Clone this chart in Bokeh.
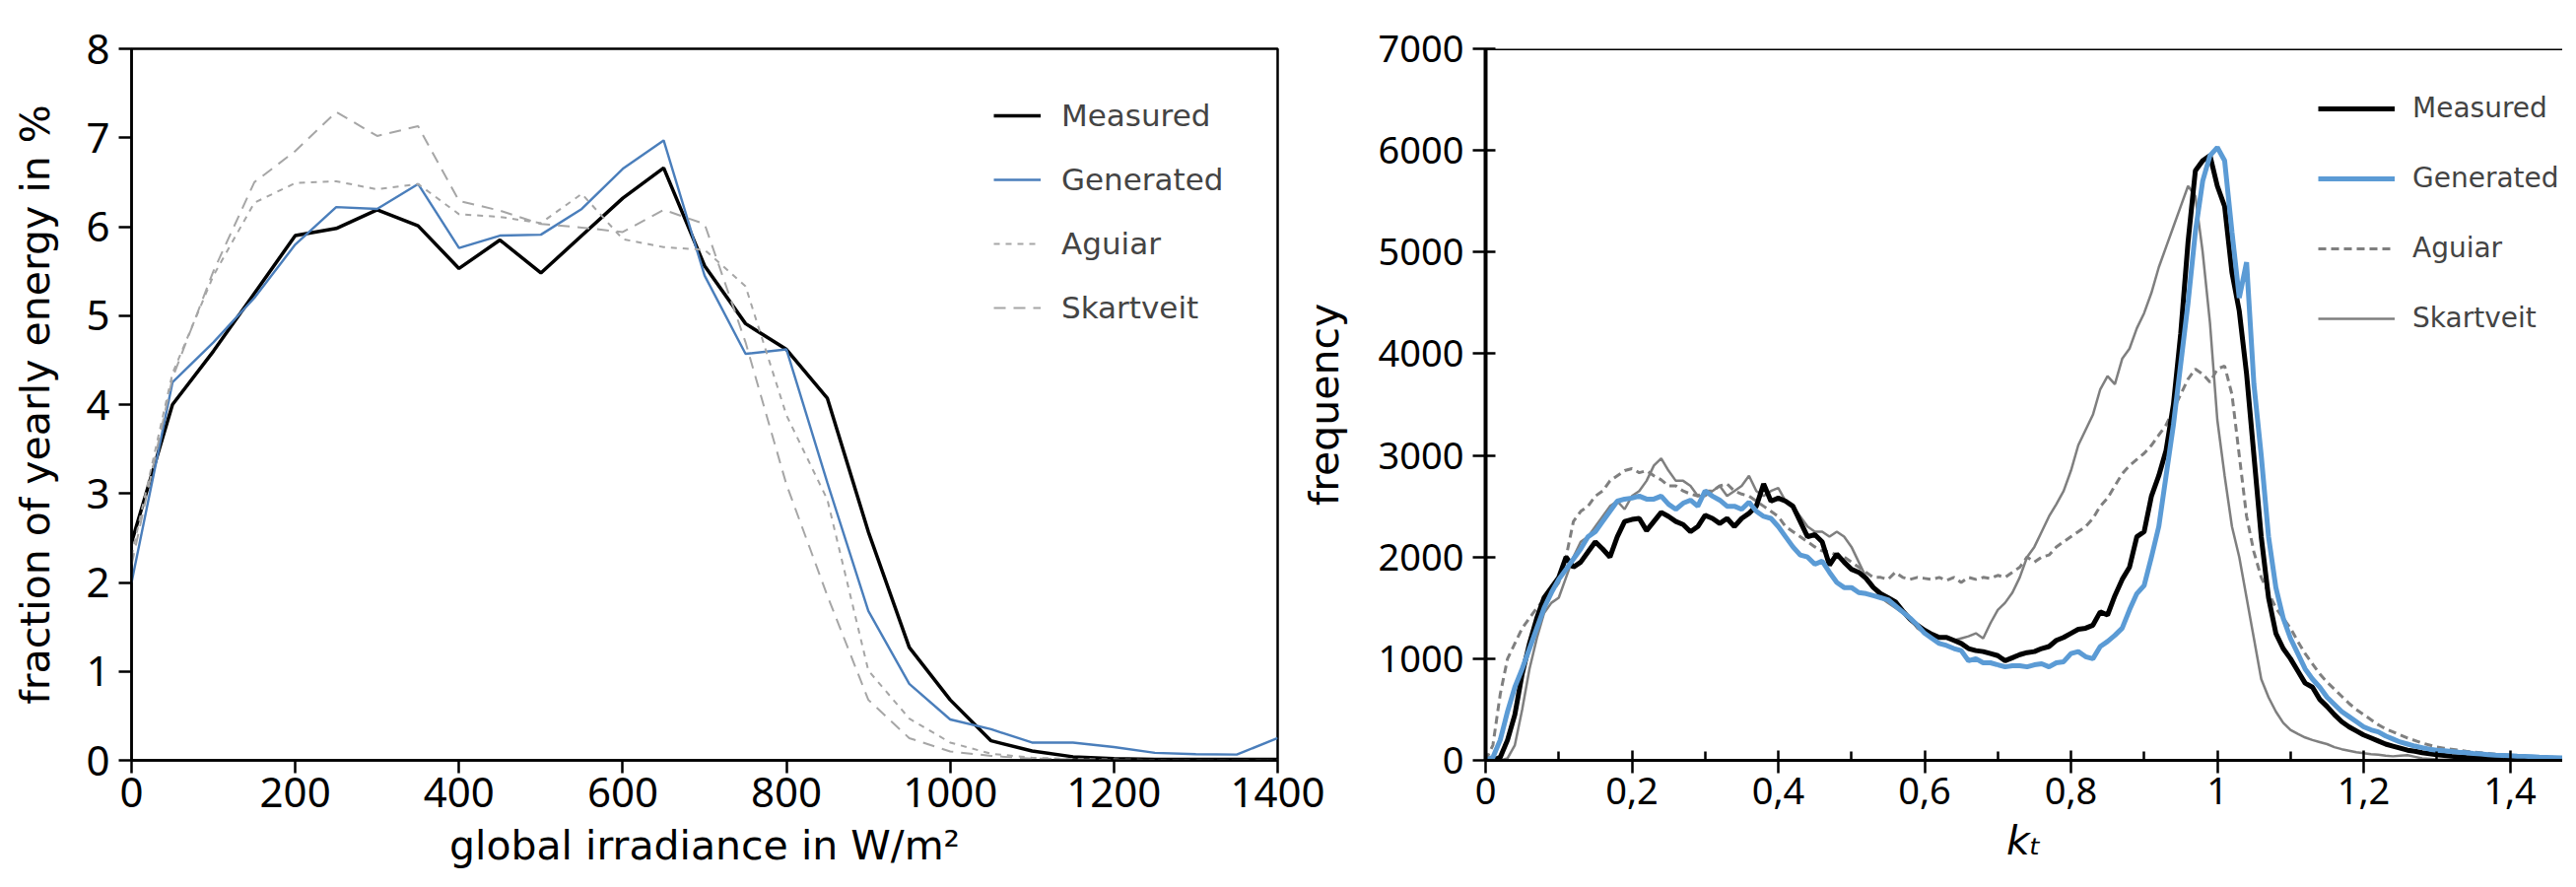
from bokeh.plotting import figure
from bokeh.models import Legend, LegendItem, FixedTicker, CustomJSTickFormatter, Span
from bokeh.layouts import row
from bokeh.embed import file_html
from bokeh.resources import INLINE

FONT = "DejaVu Sans"
TICK_FONT = "Noto Sans"

# ---------------- left panel data ----------------
irradiance = list(range(0, 1401, 50))
measured_energy = [2.45, 4.0, 4.6, 5.25, 5.9, 5.98, 6.19, 6.01, 5.53, 5.85, 5.48, 5.9, 6.32, 6.66,
                   5.56, 4.91, 4.62, 4.07, 2.57, 1.27, 0.68, 0.22, 0.105, 0.04, 0.02, 0.01, 0.01, 0.01, 0.01]
generated_energy = [2.0, 4.25, 4.7, 5.2, 5.8, 6.22, 6.2, 6.48, 5.76, 5.9, 5.91, 6.2, 6.65, 6.97,
                    5.45, 4.57, 4.62, 3.12, 1.68, 0.86, 0.46, 0.35, 0.2, 0.2, 0.15, 0.085, 0.07, 0.065, 0.25]
aguiar_energy = [2.3, 4.35, 5.45, 6.27, 6.49, 6.51, 6.42, 6.48, 6.14, 6.11, 6.04, 6.37, 5.86, 5.77,
                 5.74, 5.33, 3.88, 2.93, 1.01, 0.47, 0.2, 0.075, 0.03, 0.015, 0.01, 0.005, 0.0, 0.0, 0.0]
skartveit_energy = [2.2, 4.3, 5.5, 6.5, 6.85, 7.29, 7.02, 7.13, 6.29, 6.18, 6.03, 5.99, 5.94, 6.19,
                    6.03, 4.7, 3.1, 1.85, 0.68, 0.25, 0.1, 0.05, 0.02, 0.01, 0.005, 0.0, 0.0, 0.0, 0.0]
irr_ticks = [0, 200, 400, 600, 800, 1000, 1200, 1400]
energy_ticks = [0, 1, 2, 3, 4, 5, 6, 7, 8]

# ---------------- right panel data ----------------
kt = [round(i * 0.01, 2) for i in range(151)]
measured_freq = [
    0, 0, 30, 200, 450, 850, 1150, 1400, 1600, 1700,
    1800, 2000, 1900, 1950, 2050, 2150, 2080, 2000, 2200, 2350,
    2370, 2380, 2260, 2350, 2440, 2400, 2350, 2320, 2250, 2300,
    2410, 2380, 2330, 2380, 2300, 2380, 2430, 2500, 2720, 2550,
    2580, 2550, 2500, 2350, 2200, 2220, 2150, 1920, 2030, 1950,
    1880, 1850, 1790, 1700, 1640, 1600, 1560, 1470, 1390, 1330,
    1280, 1240, 1210, 1210, 1180, 1150, 1100, 1080, 1070, 1050,
    1030, 980, 1010, 1040, 1060, 1070, 1100, 1120, 1180, 1210,
    1250, 1290, 1300, 1330, 1460, 1430, 1620, 1780, 1900, 2200,
    2250, 2600, 2800, 3050, 3500, 4200, 5100, 5800, 5900, 5950,
    5650, 5450, 4800, 4420, 3800, 3000, 2200, 1600, 1250, 1100,
    1000, 880, 760, 720, 600, 530, 450, 380, 330, 290,
    250, 220, 190, 160, 140, 120, 100, 90, 75, 65,
    55, 48, 40, 35, 30, 26, 22, 19, 17, 15,
    14, 12, 10, 9, 8, 7, 6, 5, 5, 4,
    4]
generated_freq = [
    0, 30, 200, 480, 720, 900, 1100, 1300, 1500, 1650,
    1780, 1880, 1980, 2080, 2200, 2250, 2350, 2450, 2550, 2570,
    2580, 2600, 2570, 2570, 2600, 2520, 2470, 2530, 2560, 2500,
    2650, 2600, 2560, 2500, 2500, 2470, 2540, 2450, 2400, 2380,
    2300, 2200, 2100, 2020, 2000, 1930, 1960, 1850, 1750, 1700,
    1700, 1650, 1640, 1620, 1600, 1580, 1520, 1460, 1400, 1330,
    1250, 1200, 1150, 1130, 1100, 1080, 980, 1000, 960, 960,
    940, 920, 930, 930, 920, 940, 950, 920, 960, 970,
    1050, 1070, 1020, 1000, 1120, 1170, 1230, 1300, 1480, 1640,
    1720, 2000, 2300, 2800, 3300, 3900, 4500, 5200, 5700, 5950,
    6030, 5900, 5200, 4550, 4900, 3700, 3000, 2200, 1700, 1400,
    1200, 1050, 900, 800, 720, 620, 550, 480, 430, 380,
    330, 300, 280, 240, 210, 180, 160, 140, 125, 110,
    100, 95, 88, 80, 75, 68, 62, 56, 50, 48,
    45, 42, 40, 36, 32, 30, 27, 24, 22, 20,
    18]
aguiar_freq = [
    0, 150, 650, 1000, 1150, 1300, 1400, 1500, 1580, 1650,
    1750, 2000, 2350, 2450, 2500, 2600, 2650, 2750, 2800, 2850,
    2870, 2830, 2850, 2800, 2760, 2700, 2700, 2650, 2620, 2600,
    2650, 2650, 2700, 2720, 2650, 2620, 2600, 2550, 2500, 2450,
    2400, 2300, 2250, 2200, 2150, 2100, 2060, 2050, 2020, 2000,
    1950, 1900, 1850, 1800, 1800, 1780, 1850, 1800, 1780, 1800,
    1790, 1780, 1800, 1770, 1800, 1750, 1800, 1780, 1800, 1790,
    1820, 1800, 1850, 1900, 2000, 1950, 2000, 2020, 2100, 2150,
    2200, 2250, 2300, 2380, 2500, 2580, 2700, 2820, 2900, 2960,
    3020, 3100, 3200, 3300, 3450, 3600, 3750, 3850, 3800, 3720,
    3850, 3880, 3600, 3000, 2400, 2050, 1800, 1650, 1500, 1400,
    1300, 1170, 1050, 950, 850, 770, 700, 630, 560, 500,
    450, 400, 350, 310, 280, 250, 220, 195, 170, 150,
    130, 120, 110, 100, 90, 82, 75, 68, 60, 55,
    50, 46, 40, 38, 35, 32, 30, 27, 25, 22,
    20]
skartveit_freq = [
    0, 0, 0, 20, 150, 500, 900, 1200, 1450, 1550,
    1600, 1800, 2000, 2150, 2200, 2300, 2400, 2500, 2550, 2470,
    2600, 2650, 2750, 2900, 2970, 2850, 2750, 2750, 2700, 2600,
    2600, 2650, 2700, 2600, 2650, 2700, 2800, 2650, 2600, 2650,
    2680, 2550, 2500, 2400, 2300, 2250, 2250, 2200, 2250, 2200,
    2100, 1950, 1800, 1700, 1600, 1550, 1500, 1450, 1400, 1300,
    1250, 1220, 1200, 1200, 1180, 1200, 1220, 1250, 1200, 1350,
    1480, 1550, 1650, 1800, 2000, 2100, 2250, 2400, 2520, 2650,
    2850, 3100, 3250, 3400, 3650, 3780, 3700, 3950, 4050, 4250,
    4400, 4600, 4850, 5050, 5250, 5450, 5650, 5550, 5000, 4300,
    3350, 2800, 2300, 2000, 1600, 1200, 800, 620, 480, 370,
    300, 260, 225, 200, 180, 160, 130, 110, 95, 80,
    70, 60, 55, 45, 40, 45, 50, 35, 20, 15,
    10, 8, 6, 5, 4, 3, 3, 2, 2, 2,
    1, 1, 1, 1, 0, 0, 0, 0, 0, 0,
    0]
kt_ticks = [0, 0.2, 0.4, 0.6, 0.8, 1.0, 1.2, 1.4]
kt_minor = [0.1, 0.3, 0.5, 0.7, 0.9, 1.1, 1.3, 1.5]
freq_ticks = [0, 1000, 2000, 3000, 4000, 5000, 6000, 7000]

# ---------------- left figure ----------------
p1 = figure(frame_width=1163, frame_height=722, x_range=(0, 1400), y_range=(0, 8),
            output_backend="svg", toolbar_location=None,
            min_border_left=133, min_border_right=50, min_border_top=40, min_border_bottom=120)
p1.grid.visible = False
p1.outline_line_color = "black"
p1.outline_line_width = 2.5
p1.outline_line_alpha = 1.0

for ax in (p1.xaxis[0], p1.yaxis[0]):
    ax.axis_line_width = 2.5
    ax.major_tick_line_width = 2.5
    ax.major_tick_in = 0
    ax.major_tick_out = 13
    ax.minor_tick_line_color = None
    ax.major_label_text_font = TICK_FONT
    ax.major_label_text_font_size = "42px"
    ax.major_label_text_color = "black"
    ax.axis_label_text_font = FONT
    ax.axis_label_text_font_size = "41px"
    ax.axis_label_text_font_style = "normal"
    ax.axis_label_text_color = "black"

p1.xaxis.ticker = FixedTicker(ticks=irr_ticks)
p1.yaxis.ticker = FixedTicker(ticks=energy_ticks)
p1.xaxis.axis_label = "global irradiance in W/m²"
p1.yaxis.axis_label = "fraction of yearly energy in %"
p1.xaxis.major_label_standoff = 4
p1.xaxis.axis_label_standoff = 12
p1.yaxis.major_label_standoff = 9
p1.yaxis.axis_label_standoff = 24

GREY_L = "#a6a6a6"
r1 = p1.line(irradiance, measured_energy, line_color="black", line_width=3.5)
r2 = p1.line(irradiance, generated_energy, line_color="#4a7ebb", line_width=2.4)
r3 = p1.line(irradiance, aguiar_energy, line_color=GREY_L, line_width=2, line_dash="6 6")
r4 = p1.line(irradiance, skartveit_energy, line_color=GREY_L, line_width=2, line_dash="12 8")

leg1 = Legend(items=[LegendItem(label="Measured", renderers=[r1]),
                     LegendItem(label="Generated", renderers=[r2]),
                     LegendItem(label="Aguiar", renderers=[r3]),
                     LegendItem(label="Skartveit", renderers=[r4])],
              location=(875, 427))
leg1.border_line_color = None
leg1.background_fill_alpha = 0
leg1.label_text_font = FONT
leg1.label_text_font_size = "31px"
leg1.glyph_width = 48
leg1.glyph_height = 20
leg1.label_height = 65
leg1.label_standoff = 21
leg1.spacing = 0
leg1.padding = 10
leg1.margin = 0
p1.add_layout(leg1)

# ---------------- right figure ----------------
p2 = figure(frame_width=1093, frame_height=722, x_range=(0, 1.472), y_range=(0, 7000),
            output_backend="svg", toolbar_location=None,
            min_border_left=189, min_border_right=0, min_border_top=49, min_border_bottom=105,
            margin=(0, 0, 0, -30))
p2.grid.visible = False
p2.outline_line_color = None
p2.border_fill_color = None
p2.background_fill_color = None

for ax in (p2.xaxis[0], p2.yaxis[0]):
    ax.major_tick_line_width = 2.5
    ax.major_tick_in = 10
    ax.major_tick_out = 13
    ax.major_label_text_font = TICK_FONT
    ax.major_label_text_font_size = "38px"
    ax.major_label_text_color = "black"
    ax.axis_label_text_font = FONT
    ax.axis_label_text_font_size = "41px"
    ax.axis_label_text_font_style = "normal"
    ax.axis_label_text_color = "black"

p2.yaxis.axis_line_width = 4
p2.xaxis.axis_line_width = 3
p2.yaxis.minor_tick_line_color = None
p2.xaxis.minor_tick_in = 9
p2.xaxis.minor_tick_out = 0
p2.xaxis.minor_tick_line_width = 2.5
p2.xaxis.minor_tick_line_color = "black"
p2.xaxis.ticker = FixedTicker(ticks=kt_ticks, minor_ticks=kt_minor)
p2.yaxis.ticker = FixedTicker(ticks=freq_ticks)
p2.xaxis.formatter = CustomJSTickFormatter(
    code="return tick.toFixed(1).replace('.', ',').replace(/,0$/, '');")
p2.yaxis.axis_label = "frequency"
p2.xaxis.axis_label = "kₜ"
p2.xaxis.axis_label_text_font_style = "italic"
p2.xaxis.major_label_standoff = 4
p2.xaxis.axis_label_standoff = 10
p2.yaxis.major_label_standoff = 9
p2.yaxis.axis_label_standoff = 28

p2.add_layout(Span(location=7000, dimension="width", line_color="black", line_width=3))

GREY_R = "#7f7f7f"
s4 = p2.line(kt, skartveit_freq, line_color=GREY_R, line_width=2.5)
s3 = p2.line(kt, aguiar_freq, line_color=GREY_R, line_width=3, line_dash="8 5")
s1 = p2.line(kt, measured_freq, line_color="black", line_width=5)
s2 = p2.line(kt, generated_freq, line_color="#5b9bd5", line_width=5)

leg2 = Legend(items=[LegendItem(label="Measured", renderers=[s1]),
                     LegendItem(label="Generated", renderers=[s2]),
                     LegendItem(label="Aguiar", renderers=[s3]),
                     LegendItem(label="Skartveit", renderers=[s4])],
              location=(845, 413))
leg2.border_line_color = None
leg2.background_fill_alpha = 0
leg2.label_text_font = FONT
leg2.label_text_font_size = "28px"
leg2.glyph_width = 78
leg2.glyph_height = 20
leg2.label_height = 71
leg2.label_standoff = 18
leg2.spacing = 0
leg2.padding = 10
leg2.margin = 0
p2.add_layout(leg2)

layout = row(p1, p2)
open("out.html", "w").write(file_html(layout, INLINE))
